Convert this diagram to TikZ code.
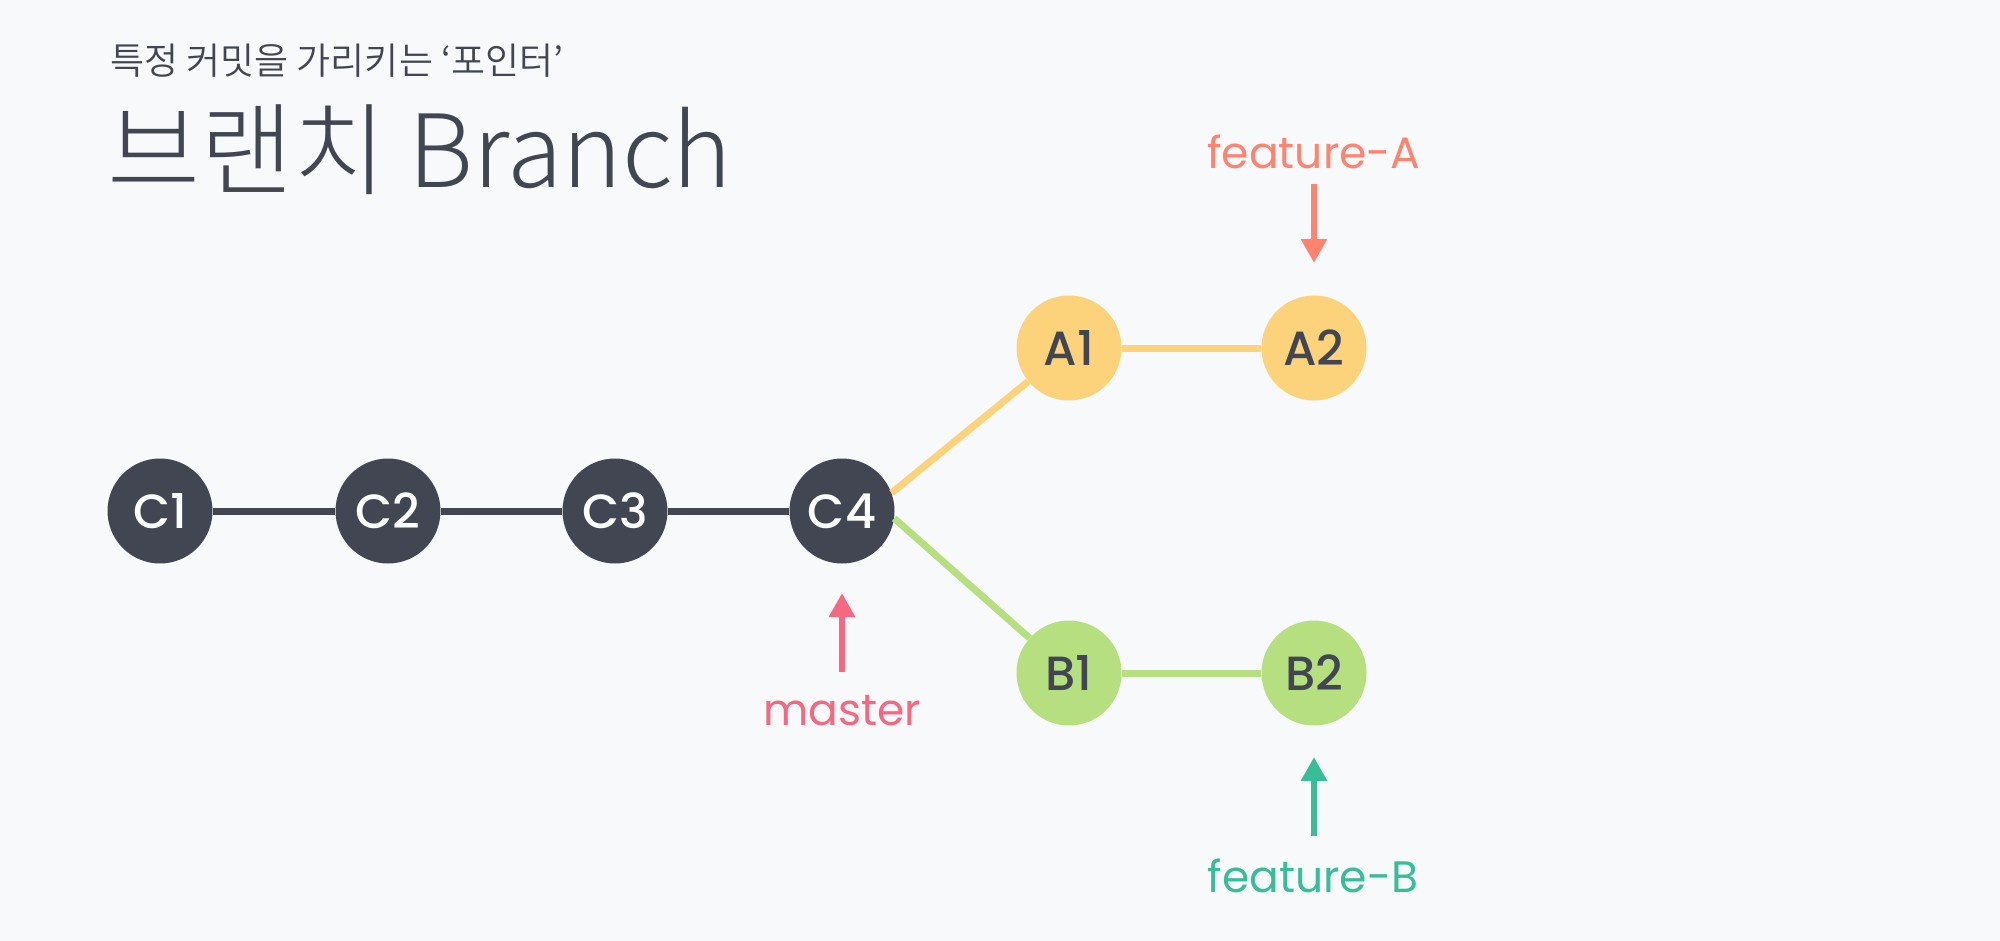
\documentclass[tikz,border=0pt]{standalone}
\usepackage{fontspec}
\usetikzlibrary{arrows.meta}
\IfFontExistsTF{Noto Sans CJK KR Light}
  {\newfontfamily\titlefont{Noto Sans CJK KR Light}}
  {\newfontfamily\titlefont{Noto Sans CJK KR}}
\IfFontExistsTF{Noto Sans CJK KR DemiLight}
  {\newfontfamily\subfont{Noto Sans CJK KR DemiLight}}
  {\newfontfamily\subfont{Noto Sans CJK KR}}
\IfFontExistsTF{Poppins Medium}
  {\newfontfamily\nodefont{Poppins Medium}}
  {\newfontfamily\nodefont{Poppins}}
\newfontfamily\labfont{Poppins}
\definecolor{bgc}{HTML}{F8F9FB}
\definecolor{darkc}{HTML}{414652}
\definecolor{yel}{HTML}{FCD37B}
\definecolor{grn}{HTML}{B6E080}
\definecolor{salmon}{HTML}{FF836F}
\definecolor{pinkc}{HTML}{F5687F}
\definecolor{teal}{HTML}{38BD99}
\tikzset{
  commit/.style={circle, minimum size=105bp, inner sep=0pt,
    font=\nodefont\fontsize{48bp}{56bp}\selectfont},
  maincommit/.style={commit, fill=darkc, text=white},
  acommit/.style={commit, fill=yel, text=darkc},
  bcommit/.style={commit, fill=grn, text=darkc},
  edge/.style={line width=7bp},
  pointer/.style={line width=6bp, -{Triangle[width=25bp,length=24bp]}},
  ptrlabel/.style={anchor=base, inner sep=0pt, font=\labfont\fontsize{44bp}{52bp}\selectfont}
}
\begin{document}
\begin{tikzpicture}[x=1bp,y=-1bp]
\fill[bgc] (0,0) rectangle (2000,941);
\useasboundingbox (0,0) rectangle (2000,941);
% titles
\node[anchor=base west, inner sep=0pt, text=darkc, font=\subfont\fontsize{37bp}{44bp}\selectfont] (sub) at (110,74) {특정 커밋을 가리키는 ‘포인터’};
\node[anchor=base west, inner sep=0pt, text=darkc, font=\titlefont\fontsize{101bp}{120bp}\selectfont] (title) at (107,187) {브랜치 Branch};
% commits
\node[maincommit] (C1) at (160,511) {C1};
\node[maincommit] (C2) at (388,511) {C2};
\node[maincommit] (C3) at (615,511) {C3};
\node[maincommit] (C4) at (842,511) {C4};
\node[acommit] (A1) at (1069,348) {A1};
\node[acommit] (A2) at (1314,348) {A2};
\node[bcommit] (B1) at (1069,673) {B1};
\node[bcommit] (B2) at (1314,673) {B2};
% edges
\draw[edge, darkc] (C1) -- (C2);
\draw[edge, darkc] (C2) -- (C3);
\draw[edge, darkc] (C3) -- (C4);
\draw[edge, yel] (C4.20) -- (A1);
\draw[edge, yel] (A1) -- (A2);
\draw[edge, grn] (C4.-8) -- (B1);
\draw[edge, grn] (B1) -- (B2);
% pointers
\node[ptrlabel, text=pinkc] (master) at (842,725) {master};
\node[ptrlabel, text=salmon] (featA) at (1314,168) {feature-A};
\node[ptrlabel, text=teal] (featB) at (1313,892) {feature-B};
\coordinate (mtail) at (842,672);
\coordinate (mtip) at (842,593);
\coordinate (atail) at (1314,184);
\coordinate (atip) at (1314,263);
\coordinate (btail) at (1314,836);
\coordinate (btip) at (1314,757);
\draw[pointer, pinkc] (mtail) -- (mtip);
\draw[pointer, salmon] (atail) -- (atip);
\draw[pointer, teal] (btail) -- (btip);
\end{tikzpicture}
\end{document}
